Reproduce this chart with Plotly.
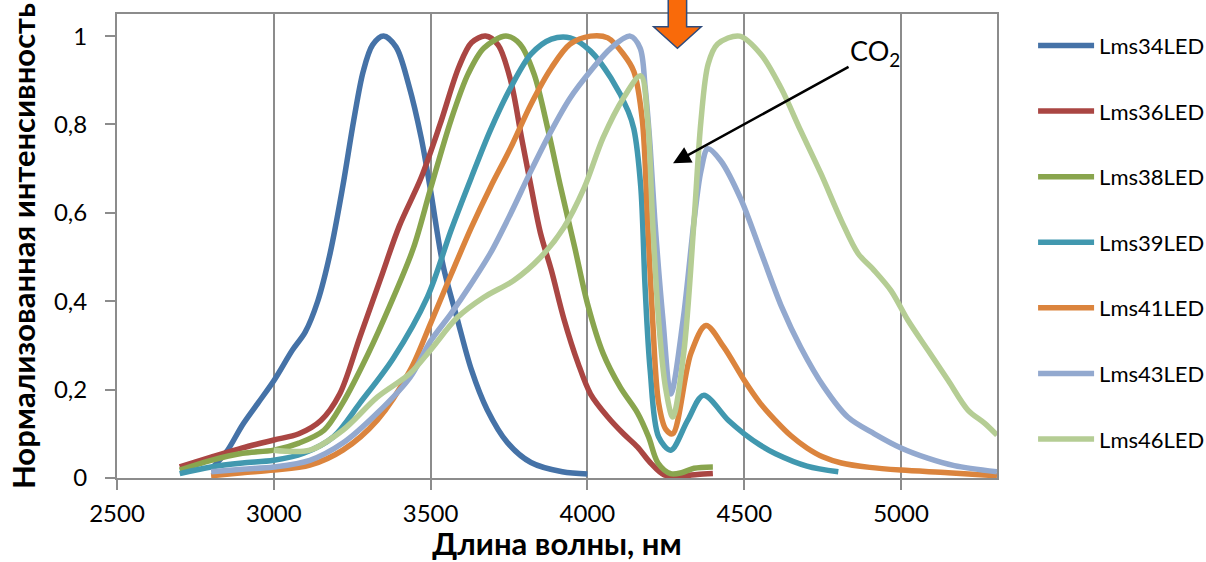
import plotly.graph_objects as go

# ---- data (wavelength, nm / normalized intensity) ----
series_names = ["Lms34LED", "Lms36LED", "Lms38LED", "Lms39LED", "Lms41LED", "Lms43LED", "Lms46LED"]
series_colors = ["#4572A7", "#AA4643", "#89A54E", "#4198AF", "#DB843D", "#93A9CF", "#B5CD94"]

x34 = [2800, 2850, 2900, 2950, 3000, 3060, 3100, 3140, 3180, 3220, 3255, 3285, 3315, 3350, 3390, 3430,
       3470, 3500, 3540, 3585, 3630, 3680, 3745, 3820, 3920, 4000]
y34 = [0.02, 0.06, 0.12, 0.17, 0.22, 0.29, 0.33, 0.40, 0.51, 0.66, 0.81, 0.92, 0.98, 1.0, 0.975, 0.89,
       0.77, 0.65, 0.48, 0.36, 0.245, 0.155, 0.08, 0.035, 0.014, 0.009]

x36 = [2700, 2800, 2900, 3000, 3080, 3150, 3210, 3275, 3340, 3400, 3470, 3530, 3590, 3630, 3675, 3715,
       3755, 3790, 3820, 3850, 3885, 3925, 3970, 4010, 4065, 4115, 4160, 4200, 4245, 4300, 4350, 4400]
y36 = [0.025, 0.047, 0.068, 0.086, 0.10, 0.13, 0.19, 0.32, 0.45, 0.57, 0.68, 0.80, 0.93, 0.985, 1.0, 0.98,
       0.90, 0.77, 0.66, 0.555, 0.47, 0.36, 0.26, 0.19, 0.138, 0.10, 0.07, 0.035, 0.007, 0.005, 0.008, 0.01]

x38 = [2700, 2800, 2900, 3000, 3080, 3160, 3220, 3300, 3370, 3445, 3500, 3565, 3620, 3670, 3740, 3785,
       3830, 3875, 3915, 3960, 4000, 4050, 4105, 4160, 4195, 4225, 4265, 4300, 4340, 4400]
y38 = [0.018, 0.04, 0.056, 0.063, 0.079, 0.108, 0.17, 0.28, 0.39, 0.52, 0.655, 0.81, 0.915, 0.973, 1.0, 0.982,
       0.914, 0.786, 0.657, 0.52, 0.395, 0.282, 0.205, 0.147, 0.093, 0.034, 0.01, 0.012, 0.022, 0.025]

x39 = [2700, 2800, 2900, 3000, 3095, 3190, 3275, 3380, 3490, 3565, 3630, 3690, 3755, 3820, 3885, 3945,
       4010, 4075, 4130, 4148, 4170, 4184, 4200, 4227, 4266, 4320, 4370, 4450, 4500, 4550, 4600, 4700, 4800]
y39 = [0.01, 0.025, 0.034, 0.04, 0.056, 0.093, 0.17, 0.27, 0.41, 0.56, 0.68, 0.786, 0.883, 0.959, 0.993, 0.996,
       0.966, 0.905, 0.83, 0.79, 0.66, 0.43, 0.245, 0.093, 0.063, 0.131, 0.187, 0.13, 0.10, 0.075, 0.055, 0.027, 0.014]

x41 = [2800, 2900, 3000, 3115, 3220, 3330, 3435, 3500, 3565, 3630, 3690, 3755, 3820, 3885, 3945, 4010,
       4065, 4115, 4148, 4175, 4192, 4208, 4227, 4250, 4272, 4330, 4378, 4435, 4500, 4550, 4600, 4650,
       4700, 4750, 4810, 4900, 5000, 5150, 5306]
y41 = [0.005, 0.012, 0.018, 0.029, 0.063, 0.131, 0.244, 0.35, 0.46, 0.567, 0.657, 0.747, 0.846, 0.928, 0.982, 1.0,
       0.996, 0.959, 0.92, 0.81, 0.58, 0.357, 0.17, 0.11, 0.10, 0.282, 0.345, 0.296, 0.221, 0.17, 0.13, 0.095,
       0.068, 0.048, 0.034, 0.024, 0.018, 0.012, 0.005]

x43 = [2800, 2900, 3000, 3115, 3220, 3330, 3435, 3500, 3565, 3630, 3690, 3755, 3820, 3885, 3945, 4010,
       4075, 4136, 4168, 4184, 4200, 4215, 4241, 4266, 4305, 4340, 4362, 4384, 4425, 4490, 4555, 4620,
       4680, 4755, 4830, 4915, 5000, 5085, 5170, 5306]
y43 = [0.014, 0.02, 0.025, 0.04, 0.079, 0.147, 0.228, 0.31, 0.372, 0.44, 0.508, 0.598, 0.695, 0.786, 0.86, 0.921,
       0.973, 1.0, 0.973, 0.885, 0.75, 0.583, 0.357, 0.19, 0.357, 0.582, 0.695, 0.745, 0.718, 0.63, 0.508, 0.386,
       0.296, 0.205, 0.138, 0.10, 0.068, 0.045, 0.028, 0.014]

x46 = [3000, 3115, 3220, 3330, 3435, 3500, 3585, 3670, 3765, 3850, 3925, 3990, 4050, 4115, 4170, 4192,
       4208, 4227, 4249, 4272, 4307, 4340, 4362, 4385, 4415, 4485, 4553, 4617, 4680, 4745, 4810, 4863,
       4914, 4968, 5022, 5086, 5150, 5214, 5266, 5306]
y46 = [0.063, 0.063, 0.108, 0.183, 0.237, 0.29, 0.363, 0.409, 0.447, 0.499, 0.567, 0.657, 0.77, 0.86, 0.91, 0.81,
       0.58, 0.357, 0.205, 0.138, 0.282, 0.582, 0.808, 0.937, 0.982, 1.0, 0.959, 0.883, 0.786, 0.688, 0.582, 0.508,
       0.47, 0.424, 0.357, 0.289, 0.221, 0.153, 0.124, 0.097]

series_x = [x34, x36, x38, x39, x41, x43, x46]
series_y = [y34, y36, y38, y39, y41, y43, y46]

x_ticks = [2500, 3000, 3500, 4000, 4500, 5000]
y_ticks = [0, 0.2, 0.4, 0.6, 0.8, 1.0]
y_tick_labels = ["0", "0,2", "0,4", "0,6", "0,8", "1"]
x_range = [2500, 5306]
y_range = [0, 1.05]

arrow_wavelength = 4287   # orange marker above the CO2 band
co2_point = (4273, 0.712)

FONT = "Lato"
GRID = "#8C8C8C"

fig = go.Figure()
for name, color, xs, ys in zip(series_names, series_colors, series_x, series_y):
    fig.add_trace(go.Scatter(
        x=xs, y=ys, name=name, mode="lines", legendgroup=name,
        line=dict(color=color, width=5.5, shape="spline", smoothing=0.9),
    ))

fig.update_layout(
    width=1206, height=562,
    margin=dict(l=117, r=209, t=14, b=84, autoexpand=False),
    paper_bgcolor="white", plot_bgcolor="white",
    font=dict(family=FONT, color="#000000"),
    showlegend=True,
    legend=dict(
        x=1.041, y=0.977, xanchor="left", yanchor="top",
        font=dict(family=FONT, size=22, color="#000000"),
        traceorder="grouped", tracegroupgap=34, itemwidth=56,
        bgcolor="rgba(0,0,0,0)",
    ),
)

fig.update_xaxes(
    range=x_range, tickvals=x_ticks, ticktext=[str(v) for v in x_ticks],
    showgrid=True, gridcolor=GRID, gridwidth=2,
    showline=True, linecolor=GRID, linewidth=2, mirror=True,
    ticks="outside", ticklen=10, tickcolor=GRID, tickwidth=2,
    tickfont=dict(family=FONT, size=24, color="#000000"),
    ticklabelstandoff=3,
    title=dict(text="<b>Длина волны, нм</b>", font=dict(family=FONT, size=31, color="#000000"), standoff=12),
    zeroline=False, automargin=False,
)
fig.update_yaxes(
    range=y_range, tickvals=y_ticks, ticktext=y_tick_labels,
    showgrid=False,
    showline=True, linecolor=GRID, linewidth=2, mirror=True,
    ticks="outside", ticklen=10, tickcolor=GRID, tickwidth=2,
    tickfont=dict(family=FONT, size=24, color="#000000"),
    ticklabelstandoff=13,
    title=dict(text="<b>Нормализованная интенсивность</b>", font=dict(family=FONT, size=31, color="#000000"), standoff=9),
    zeroline=False, automargin=False,
)

# orange block arrow (paper coords derived from the wavelength)
xc = (arrow_wavelength - x_range[0]) / (x_range[1] - x_range[0])
plot_w, plot_h = 880.0, 464.0
def px(dx):
    return xc + dx / plot_w
def py(pix_from_top):
    return (478 - pix_from_top) / plot_h
path = (f"M {px(-9.2)},{py(-10)} L {px(9.2)},{py(-10)} L {px(9.2)},{py(26.7)} "
        f"L {px(23.8)},{py(26.7)} L {px(0)},{py(48.3)} L {px(-23.8)},{py(26.7)} "
        f"L {px(-9.2)},{py(26.7)} Z")
fig.add_shape(type="path", path=path, xref="paper", yref="paper",
              fillcolor="#F96A0A", line=dict(color="#2F4B7C", width=1.5), layer="above")

# CO2 annotation with arrow
fig.add_annotation(
    x=co2_point[0], y=co2_point[1], xref="x", yref="y",
    text="CO<sub>2</sub>", showarrow=True,
    ax=202, ay=-111, axref="pixel", ayref="pixel",
    arrowhead=2, arrowsize=1.4, arrowwidth=2.5, arrowcolor="#000000",
    font=dict(family=FONT, size=27, color="#000000"),
)

fig.write_html("out.html", config={"displayModeBar": False},
               post_script="document.body.style.margin='0px';")
